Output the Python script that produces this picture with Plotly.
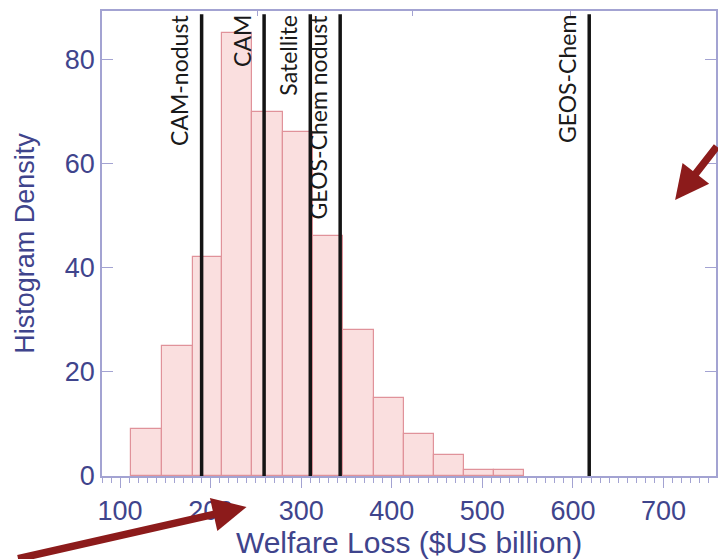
import plotly.graph_objects as go

# Histogram of simulated welfare loss (left bin edges and densities)
bin_edges = [112, 146, 180, 213, 246, 280, 313, 346, 380, 413, 447, 480, 513, 546]
densities = [9, 25, 42, 85, 70, 66, 46, 28, 15, 8, 4, 1.1, 1.1]

# Model estimates shown as vertical reference lines
model_names = ["CAM-nodust", "CAM", "Satellite", "GEOS-Chem nodust", "GEOS-Chem"]
model_values = [190, 259, 310, 343, 618]

x_ticks = [100, 200, 300, 400, 500, 600, 700]
y_ticks = [0, 20, 40, 60, 80]
top_ticks = [252, 423, 597]

centers = [(a + b) / 2 for a, b in zip(bin_edges[:-1], bin_edges[1:])]
widths = [b - a for a, b in zip(bin_edges[:-1], bin_edges[1:])]

AXIS_LINE = "#a3a3d2"
AXIS_TEXT = "#3f448c"

fig = go.Figure()
fig.add_trace(go.Bar(
    x=centers, y=densities, width=widths,
    marker=dict(color="#fadfdf", line=dict(color="#e0929a", width=1.2)),
    showlegend=False, hoverinfo="x+y",
))
# invisible trace to activate the top axis (tick marks only)
fig.add_trace(go.Scatter(x=[top_ticks[0]], y=[0], xaxis="x2", mode="markers",
                         marker=dict(opacity=0), showlegend=False, hoverinfo="skip"))

for name, val in zip(model_names, model_values):
    fig.add_shape(type="line", xref="x", yref="paper", x0=val, x1=val, y0=0, y1=0.993,
                  line=dict(color="#141414", width=3.5), layer="above")
    fig.add_annotation(x=val, y=0.996, xref="x", yref="paper", text=name,
                       textangle=-90, showarrow=False, xanchor="right", yanchor="top",
                       xshift=-6, font=dict(family="Lato", size=23, color="#1a1a1a"))

# dark red pointer arrows
arrow_style = dict(showarrow=True, arrowhead=2, arrowsize=0.9, arrowwidth=7.5,
                   arrowcolor="#8c1b1b", text="", xref="paper", yref="paper", axref="pixel", ayref="pixel")
fig.add_annotation(x=0.2354, y=-0.0667, ax=-230, ay=60, **arrow_style)
fig.add_annotation(x=0.9334, y=0.5935, ax=70, ay=-55, **arrow_style)

fig.update_layout(
    width=718, height=559,
    margin=dict(l=102, r=0, t=11, b=83),
    plot_bgcolor="white", paper_bgcolor="white",
    bargap=0,
    xaxis=dict(
        range=[80, 758], tickvals=x_ticks, ticks="outside", ticklen=10, tickwidth=1.3,
        tickcolor=AXIS_LINE, showline=True, linecolor=AXIS_LINE, linewidth=1.5, mirror=True,
        showgrid=False, zeroline=False,
        tickfont=dict(family="Liberation Sans", size=27, color=AXIS_TEXT),
        minor=dict(dtick=10, tick0=0, ticks="outside", ticklen=5, tickcolor=AXIS_LINE, tickwidth=1.2),
        title=dict(text="Welfare Loss ($US billion)", standoff=4,
                   font=dict(family="Liberation Sans", size=30, color=AXIS_TEXT)),
    ),
    xaxis2=dict(
        range=[80, 758], overlaying="x", side="top", tickvals=top_ticks, ticks="inside",
        ticklen=5, tickcolor=AXIS_LINE, showticklabels=False, showgrid=False, showline=False,
        zeroline=False,
    ),
    yaxis=dict(
        range=[0, 89.3], tickvals=y_ticks, ticks="inside", ticklen=11, tickwidth=1.3,
        tickcolor=AXIS_LINE, showline=True, linecolor=AXIS_LINE, linewidth=1.5, mirror="ticks",
        showgrid=False, zeroline=False,
        tickfont=dict(family="Liberation Sans", size=27, color=AXIS_TEXT),
        title=dict(text="Histogram Density", standoff=22,
                   font=dict(family="Liberation Sans", size=27, color=AXIS_TEXT)),
    ),
)

fig.write_html("out.html")
